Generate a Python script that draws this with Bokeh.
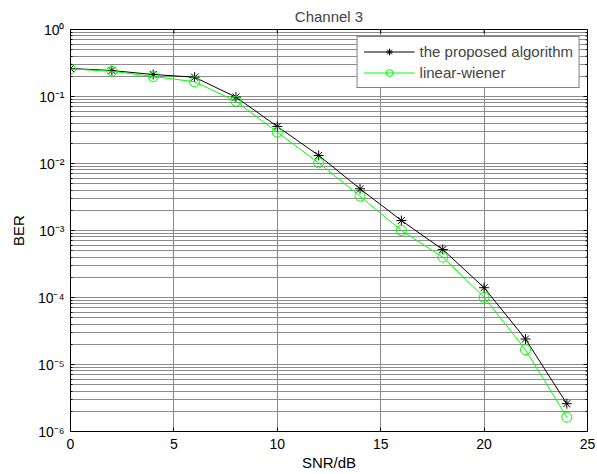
import math
from bokeh.plotting import figure
from bokeh.models import Range1d, FixedTicker, CustomJSTickFormatter, Legend
from bokeh.embed import file_html
from bokeh.resources import INLINE

snr = [0, 2, 4, 6, 8, 10, 12, 14, 16, 18, 20, 22, 24]
ber_proposed = [0.262, 0.244, 0.213, 0.194, 0.098, 0.0357, 0.0132, 0.00419, 0.00141,
                5.2e-4, 1.4e-4, 2.4e-5, 2.6e-6]
ber_wiener = [0.258, 0.238, 0.199, 0.166, 0.085, 0.0293, 0.0102, 0.00325, 0.00100,
              4.0e-4, 1.01e-4, 1.66e-5, 1.64e-6]
x_ticks = [0, 5, 10, 15, 20, 25]
y_ticks = [1e-6, 1e-5, 1e-4, 1e-3, 1e-2, 1e-1, 1e0]
y_minor = [k * t for t in y_ticks[:-1] for k in range(2, 10)]

X_MIN, X_MAX = x_ticks[0], x_ticks[-1]
Y_MIN, Y_MAX = y_ticks[0], y_ticks[-1]

FONT = "Liberation Sans"
GRID = "#8c8c8c"

p = figure(width=597, height=474, y_axis_type="log",
           x_range=Range1d(X_MIN, X_MAX), y_range=Range1d(Y_MIN, Y_MAX),
           output_backend="svg", toolbar_location=None,
           min_border_left=70, min_border_right=10, min_border_top=29, min_border_bottom=43,
           title="Channel 3")
p.title.align = "center"
p.title.text_font = FONT
p.title.text_font_size = "15px"
p.title.text_font_style = "normal"
p.title.standoff = 10
p.outline_line_color = "black"
p.outline_line_width = 1
p.background_fill_color = "white"
p.border_fill_color = "white"

xt = FixedTicker(ticks=x_ticks, minor_ticks=[])
yt = FixedTicker(ticks=y_ticks, minor_ticks=y_minor)

sup_js = """
const sup = {"-":"\u207b","0":"\u2070","1":"\u00b9","2":"\u00b2","3":"\u00b3","4":"\u2074",
             "5":"\u2075","6":"\u2076","7":"\u2077","8":"\u2078","9":"\u2079"};
const e = Math.round(Math.log10(tick));
return "10" + String(e).split("").map(c => sup[c]).join("");
"""

xa = p.xaxis[0]
xa.ticker = xt
xa.axis_label = "SNR/dB"
ya = p.yaxis[0]
ya.ticker = yt
ya.formatter = CustomJSTickFormatter(code=sup_js)
ya.axis_label = "BER"

for ax in (xa, ya):
    ax.major_tick_in = 4
    ax.major_tick_out = 0
    ax.minor_tick_in = 2
    ax.minor_tick_out = 0
    ax.axis_line_color = "black"
    ax.major_tick_line_color = "black"
    ax.minor_tick_line_color = "black"
    ax.major_label_text_font = FONT
    ax.major_label_text_font_size = "14px"
    ax.major_label_text_color = "black"
    ax.axis_label_text_font = FONT
    ax.axis_label_text_font_size = "15px"
    ax.axis_label_text_font_style = "normal"
    ax.axis_label_text_color = "black"
xa.major_label_standoff = 7
xa.axis_label_standoff = 2
ya.major_label_standoff = 6
ya.axis_label_standoff = 8

p.xgrid.ticker = xt
p.ygrid.ticker = yt
p.xgrid.grid_line_color = GRID
p.ygrid.grid_line_color = GRID
p.ygrid.minor_grid_line_color = GRID
p.xgrid.grid_line_width = 1
p.ygrid.grid_line_width = 1

# mirrored inward ticks on the top and right edges of the box
p.ray(x=[X_MAX] * len(y_ticks), y=y_ticks, length=4, length_units="screen",
      angle=math.pi, line_color="black", line_width=1)
p.ray(x=[X_MAX] * len(y_minor), y=y_minor, length=2, length_units="screen",
      angle=math.pi, line_color="black", line_width=1)
p.ray(x=x_ticks, y=[Y_MAX] * len(x_ticks), length=4, length_units="screen",
      angle=-math.pi / 2, line_color="black", line_width=1)

l1 = p.line(snr, ber_proposed, line_color="black", line_width=1)
m1 = p.scatter(snr, ber_proposed, marker="asterisk", size=10, line_color="black", line_width=1)
l2 = p.line(snr, ber_wiener, line_color="#00ff00", line_width=1)
m2 = p.scatter(snr, ber_wiener, marker="circle", size=10, line_color="#00ff00",
               fill_color=None, line_width=1)

legend = Legend(items=[("the proposed algorithm", [l1, m1]), ("linear-wiener", [l2, m2])],
                location="top_right")
legend.margin = 7
legend.padding = 6
legend.spacing = 4
legend.glyph_width = 51
legend.glyph_height = 17
legend.label_standoff = 5
legend.label_text_font = FONT
legend.label_text_font_size = "15px"
legend.border_line_color = "black"
legend.border_line_width = 1
legend.background_fill_color = "white"
legend.background_fill_alpha = 1
p.add_layout(legend, "center")

open("out.html", "w").write(file_html(p, INLINE))
